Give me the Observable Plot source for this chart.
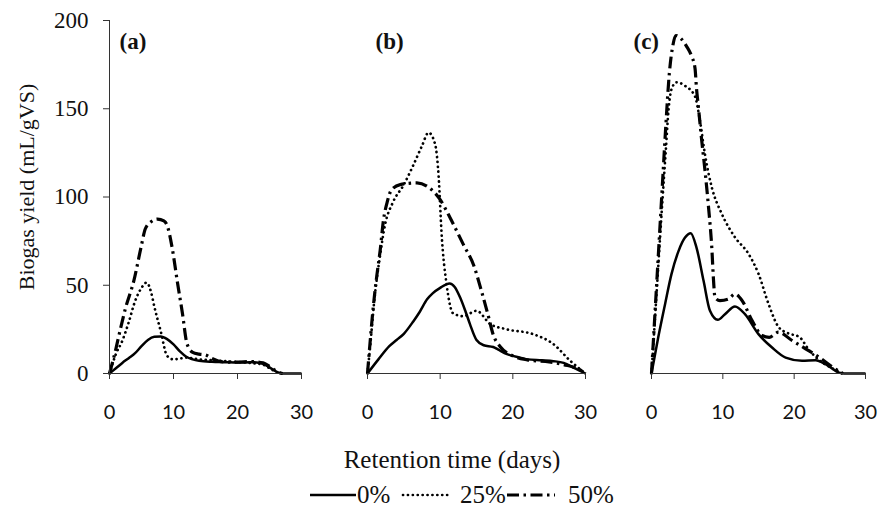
<!DOCTYPE html>
<html><head><meta charset="utf-8">
<script src="https://cdn.jsdelivr.net/npm/d3@7"></script>
<script src="https://cdn.jsdelivr.net/npm/@observablehq/plot@0.6"></script>
<style>
body{margin:0;background:#fff;}
#wrap{position:relative;width:888px;height:510px;overflow:hidden;background:#fff;}
#wrap > svg{position:absolute;top:0;}
</style></head><body><div id="wrap"></div>
<script>
// ---- data ----
const xTicks = [0, 10, 20, 30];
const yTicks = [0, 50, 100, 150, 200];
const seriesNames = ["0%", "25%", "50%"];
const panelLabels = ["(a)", "(b)", "(c)"];
const xTitle = "Retention time (days)";
const yTitle = "Biogas yield (mL/gVS)";

// [day, biogas yield]
const a_0 = [[0,0],[1,3],[2,6],[3,8.7],[4,11.5],[5,15.5],[6,19],[7,20.8],[8,21],[9,19.5],[10,16.5],[11,12.5],[12,9.5],[13,8],[14,7.2],[16,6.6],[18,6.4],[20,6.2],[22,6.4],[23,6.3],[24,5.5],[25,3.5],[26,1.2],[27,0],[30,0]];
const a_25 = [[0,0],[1,11],[2,18.5],[3,29],[4,41],[5,48.5],[5.8,51.5],[6.5,46],[7,38],[8,24],[9,10],[10,8],[11,8.5],[12,9],[14,8],[16,7.5],[18,7],[20,6.5],[22,6],[24,5],[25,3],[26,1],[27,0]];
const a_50 = [[0,0],[1,14],[1.5,22],[2.5,37],[3.8,52.5],[4.9,71],[5.6,82],[6.5,86],[7.5,87.5],[8.5,86.5],[9,84],[9.8,71],[10.6,52],[11.4,34],[12.1,17],[13,12],[14,11],[15,10.5],[16,8.5],[17,7],[18,6.5],[20,6.5],[22,6.8],[24,6],[25,4],[26,1.5],[27,0]];

const b_0 = [[0,0],[1.5,8],[3,15.5],[4,19],[5,22.5],[6.3,29.5],[7.2,35],[8.2,42],[9,45.5],[10,48.5],[11.3,51],[12,49],[12.75,43],[13.5,35],[14.1,28],[15,19],[16,16],[17.3,15],[18,13.5],[19.2,11],[21,9],[22,8],[24,7.5],[25.6,7],[27,6],[28.5,3],[30,0]];
const b_25 = [[0,0],[0.4,17],[1,44],[1.7,66],[2.4,84],[3.5,97],[5,107],[6.3,118],[7.5,129],[8.4,136.5],[9.3,130],[9.8,111],[10.2,79],[10.9,50],[11.8,34],[13.2,32.5],[15,35.5],[16.9,28],[19.2,25],[22.8,22.3],[25.6,16.6],[27.9,7.2],[30,0]];
const b_50 = [[0,0],[0.3,15],[0.8,38],[1.3,56],[1.75,70],[2.2,87],[2.7,97],[3.3,104],[4.5,107],[6.8,108],[8.4,105.5],[10,98.5],[11.4,88],[13.2,73],[14.6,61.5],[15.7,46.5],[16.6,33],[17.3,22],[18.3,15],[20,10],[22,7.7],[25,6.5],[27,5],[29.5,1.5],[30,0]];

const c_0 = [[0,0],[0.94,20.4],[1.9,39.3],[2.8,56.3],[3.8,69.5],[4.7,77],[5.5,79.5],[6.3,71.5],[7.3,52.5],[8.2,35.5],[9.3,30.4],[10.3,33.6],[11.7,38],[13.1,33.6],[15,22.3],[16.9,14.7],[18.8,9],[21.1,7.2],[23,7.5],[24.4,5.3],[26.3,0.5],[27,0],[30,0]];
const c_25 = [[0,0],[0.5,32],[1,64],[1.5,96],[2,126],[2.4,150],[2.8,161],[3.5,165],[4.7,163],[6.1,157],[6.8,143],[7.5,124],[8.45,105.5],[9.86,90.4],[11.7,77.2],[13.6,67.8],[15,56.5],[16.4,39.5],[17.8,26.4],[19.2,22.7],[20.7,20.8],[22.1,13.2],[23.5,7.6],[25.4,2.8],[26.8,0]];
const c_50 = [[0,0],[0.5,35],[1,70],[1.5,105],[2,140],[2.5,170],[3,186],[3.4,191.5],[4.2,189.5],[4.9,185.5],[5.6,180],[6.1,173],[6.3,162],[6.6,150],[7,133.5],[7.5,115],[8,94],[8.45,71.5],[8.7,52.5],[8.9,43],[9.6,41.3],[10.8,42.2],[11.7,45],[12.7,41.3],[14.1,30],[15.5,21.5],[16.5,20.5],[17.8,23.4],[19.7,18.7],[21.6,14],[23.5,9.2],[25.4,3.6],[26.8,0]];

// ---- styles / layout ----
const SERIF = "'Liberation Serif','Times New Roman',serif";
const SANS = "Lato,'Open Sans',sans-serif";
const lineStyle = {
  "0%":  {strokeWidth: 2.5, strokeDasharray: null, strokeLinecap: "butt"},
  "25%": {strokeWidth: 2.7, strokeDasharray: "0.1,4.8", strokeLinecap: "round"},
  "50%": {strokeWidth: 3.2, strokeDasharray: "12,4.5,2.5,4.5", strokeLinecap: "butt"}
};
const layout = [
  {data: [a_0, a_25, a_50], left: 0,   width: 330, ml: 109, mr: 29, labelDx: 10, yAxis: true},
  {data: [b_0, b_25, b_50], left: 330, width: 290, ml: 37,  mr: 35, labelDx: 8,  yAxis: false},
  {data: [c_0, c_25, c_50], left: 620, width: 268, ml: 31,  mr: 23, labelDx: -18, yAxis: false}
];

const wrap = document.getElementById("wrap");

layout.forEach((p, i) => {
  const marks = [];
  p.data.forEach((arr, k) => {
    const name = seriesNames[k];
    const st = lineStyle[name];
    const rows = arr.map(([day, val]) => ({day, val, series: name}));
    const opts = {x: "day", y: "val", curve: "monotone-x", stroke: "black",
      strokeWidth: st.strokeWidth, strokeLinecap: st.strokeLinecap};
    if (st.strokeDasharray) opts.strokeDasharray = st.strokeDasharray;
    marks.push(Plot.line(rows, opts));
  });
  marks.push(Plot.ruleY([0], {stroke: "#333", strokeWidth: 1}));
  marks.push(Plot.axisX({ticks: xTicks, tickSize: 6, tickPadding: 25, fontSize: 20,
    fontFamily: SANS, label: null, tickFormat: d => String(d), stroke: "#333", fill: "#111"}));
  if (p.yAxis) {
    marks.push(Plot.ruleX([0], {stroke: "#333", strokeWidth: 1}));
    marks.push(Plot.axisY({ticks: yTicks, tickSize: 6, tickPadding: 15, fontSize: 23,
      fontFamily: SERIF, label: null, tickFormat: d => String(d), stroke: "#333", fill: "#111"}));
    marks.push(Plot.text([yTitle], {text: d => d, frameAnchor: "left", rotate: -90, dx: -76, dy: -10,
      lineAnchor: "bottom", textAnchor: "middle", fontSize: 22, fontFamily: SERIF, fill: "#111"}));
  }
  marks.push(Plot.text([panelLabels[i]], {text: d => d, frameAnchor: "top-left", dx: p.labelDx, dy: 12,
    lineAnchor: "top", textAnchor: "start", fontSize: 23, fontWeight: "bold", fontFamily: SERIF, fill: "#111"}));

  const svg = Plot.plot({
    width: p.width, height: 430,
    marginLeft: p.ml, marginRight: p.mr, marginTop: 20, marginBottom: 57,
    x: {domain: [0, 30], axis: null},
    y: {domain: [0, 200], axis: null},
    style: {background: "transparent", overflow: "visible"},
    marks
  });
  svg.style.left = p.left + "px";
  wrap.appendChild(svg);
});

// ---- x title and legend below the panels ----
const ns = "http://www.w3.org/2000/svg";
const bottom = document.createElementNS(ns, "svg");
bottom.setAttribute("width", 888);
bottom.setAttribute("height", 80);
bottom.style.position = "absolute";
bottom.style.left = "0px";
bottom.style.top = "430px";
function addText(txt, x, y, size, anchor) {
  const t = document.createElementNS(ns, "text");
  t.setAttribute("x", x); t.setAttribute("y", y);
  t.setAttribute("font-family", SERIF); t.setAttribute("font-size", size);
  t.setAttribute("fill", "#111");
  if (anchor) t.setAttribute("text-anchor", anchor);
  t.textContent = txt;
  bottom.appendChild(t);
}
addText(xTitle, 452, 38, 25, "middle");
const legendPos = [
  {x1: 310, x2: 356, tx: 357},
  {x1: 403, x2: 451, tx: 460},
  {x1: 507, x2: 555, tx: 568}
];
seriesNames.forEach((name, k) => {
  const st = lineStyle[name];
  const l = document.createElementNS(ns, "line");
  const lp = legendPos[k];
  l.setAttribute("x1", lp.x1); l.setAttribute("x2", lp.x2);
  l.setAttribute("y1", 65); l.setAttribute("y2", 65);
  l.setAttribute("stroke", "black");
  l.setAttribute("stroke-width", st.strokeWidth);
  l.setAttribute("stroke-linecap", st.strokeLinecap);
  if (st.strokeDasharray) l.setAttribute("stroke-dasharray", st.strokeDasharray);
  bottom.appendChild(l);
  addText(name, lp.tx, 73, 25, "start");
});
wrap.appendChild(bottom);
</script></body></html>
